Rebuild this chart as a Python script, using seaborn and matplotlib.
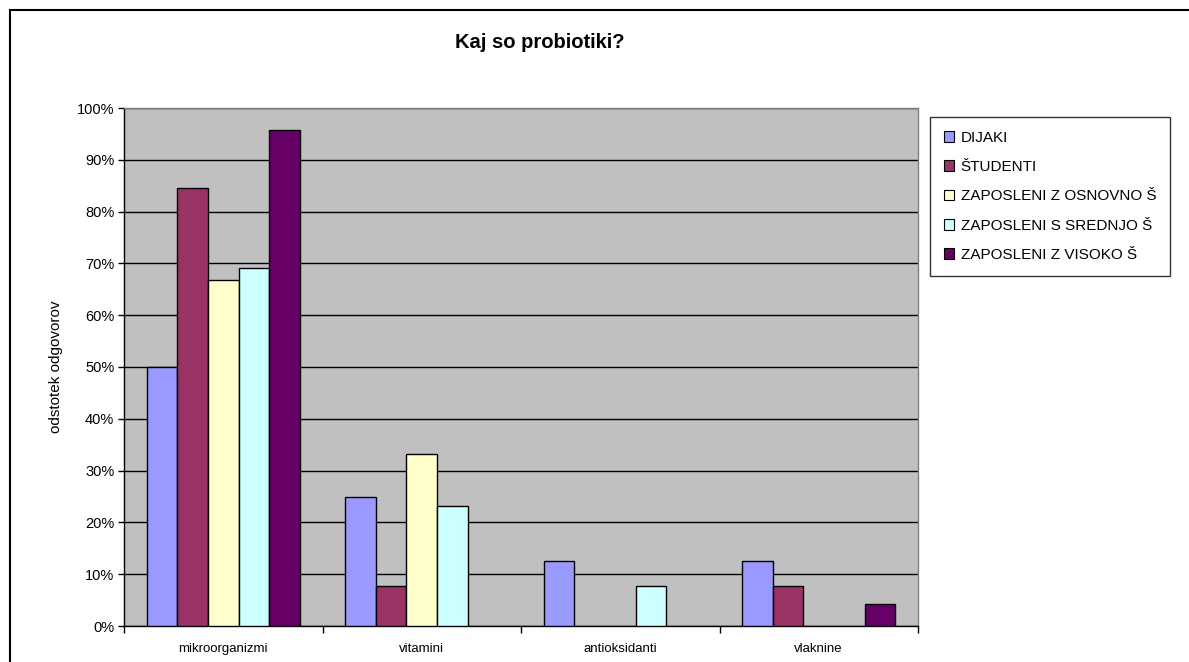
import numpy as np
import pandas as pd
import matplotlib
matplotlib.use("Agg")
import matplotlib.pyplot as plt
import seaborn as sns
from matplotlib.patches import Rectangle
from matplotlib.ticker import FixedLocator, PercentFormatter

# data (percent of answers); None = no answer / no bar
categories = ["mikroorganizmi", "vitamini", "antioksidanti", "vlaknine"]
groups = ["DIJAKI", "ŠTUDENTI", "ZAPOSLENI Z OSNOVNO Š",
          "ZAPOSLENI S SREDNJO Š", "ZAPOSLENI Z VISOKO Š"]
dijaki = [50.0, 25.0, 12.5, 12.5]
studenti = [84.6, 7.7, None, 7.7]
zap_osnovno = [66.7, 33.3, None, None]
zap_srednjo = [69.2, 23.1, 7.7, None]
zap_visoko = [95.7, None, None, 4.3]
colors = ["#9999FF", "#993366", "#FFFFCC", "#CCFFFF", "#660066"]

series = [dijaki, studenti, zap_osnovno, zap_srednjo, zap_visoko]
rows = []
for g, vals in zip(groups, series):
    for c, v in zip(categories, vals):
        rows.append({"kategorija": c, "skupina": g,
                     "odstotek": np.nan if v is None else v})
df = pd.DataFrame(rows)

sns.set_theme(style="white")
plt.rcParams['font.family'] = ['Liberation Sans', 'DejaVu Sans']
plt.rcParams['text.color'] = 'black'
plt.rcParams['axes.labelcolor'] = 'black'
plt.rcParams['xtick.color'] = 'black'
plt.rcParams['ytick.color'] = 'black'

W, H = 1189, 662
fig = plt.figure(figsize=(W / 100, H / 100), dpi=100)
ax = fig.add_axes([124 / W, 1 - 626 / H, (918 - 124) / W, (626 - 108) / H])
ax.set_facecolor("#C0C0C0")

sns.barplot(data=df, x="kategorija", y="odstotek", hue="skupina",
            order=categories, hue_order=groups, palette=colors,
            width=0.77, gap=0, edgecolor="black", linewidth=1.0,
            saturation=1, ax=ax, zorder=3)

ax.set_ylim(0, 100)
ax.set_xlim(-0.5, 3.5)
ax.set_yticks(np.arange(0, 101, 10))
ax.yaxis.set_major_formatter(PercentFormatter(decimals=0))
ax.grid(axis="y", color="black", linewidth=1.0, zorder=1)
ax.set_axisbelow(True)

ax.xaxis.set_minor_locator(FixedLocator([-0.5, 0.5, 1.5, 2.5, 3.5]))
ax.tick_params(axis="x", which="major", length=0, labelsize=9.5, pad=12)
ax.tick_params(axis="x", which="minor", length=5, width=1, color="black",
               direction="out", bottom=True)
ax.tick_params(axis="y", length=4, width=1, color="black", direction="out",
               left=True, labelsize=10.5, pad=3)

ax.set_xlabel("")
ax.set_ylabel("odstotek odgovorov", fontsize=11, labelpad=10)

for side in ["left", "bottom"]:
    ax.spines[side].set_color("black")
    ax.spines[side].set_linewidth(1.0)
for side in ["top", "right"]:
    ax.spines[side].set_color("#808080")
    ax.spines[side].set_linewidth(1.0)

fig.text(540 / W, 1 - 42 / H, "Kaj so probiotiki?",
         ha="center", va="center", fontsize=14.5, fontweight="bold")

# legend on the right, Excel style
handles, labels = ax.get_legend_handles_labels()
leg = fig.legend(handles, labels, loc="upper left",
                 bbox_to_anchor=(930 / W, 1 - 117 / H),
                 frameon=True, fancybox=False, edgecolor="black",
                 fontsize=11, handlelength=0.7, handleheight=0.7,
                 handletextpad=0.4, labelspacing=1.0, borderpad=0.9,
                 borderaxespad=0)
leg.get_frame().set_linewidth(1.0)
leg.get_frame().set_facecolor("white")
for h in leg.legend_handles:
    h.set_edgecolor("black")
    h.set_linewidth(0.8)
if ax.legend_:
    ax.legend_.remove()

# outer chart border
fig.patches.append(Rectangle((10 / W, -0.1), 1.2, 1 - 10 / H + 0.1,
                             transform=fig.transFigure, fill=False,
                             edgecolor="black", linewidth=1.5))

fig.savefig("out.png", dpi=100)
